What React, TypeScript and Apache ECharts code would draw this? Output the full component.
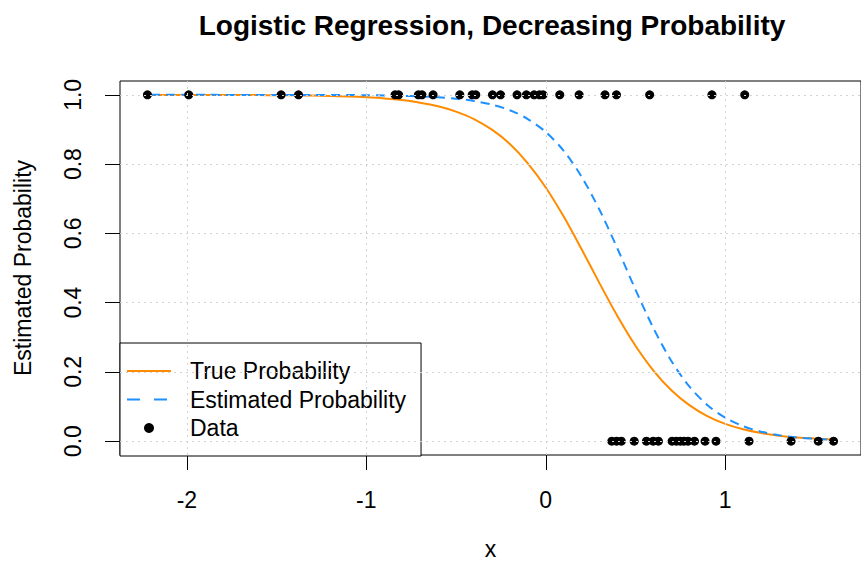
import React, { useEffect, useRef } from "react";
import * as echarts from "echarts";

const titleText = "Logistic Regression, Decreasing Probability";
const xName = "x";
const yName = "Estimated Probability";
const xTicks = [-2, -1, 0, 1];
const yTicks = [0, 0.2, 0.4, 0.6, 0.8, 1.0];
const xMin = -2.373;
const xMax = 1.757;
const yMin = -0.04;
const yMax = 1.04;

const curveX = [
  -2.2, -2.1, -2.0, -1.9, -1.8, -1.7, -1.6, -1.5, -1.4, -1.3, -1.2, -1.1, -1.0,
  -0.9, -0.8, -0.7, -0.6, -0.5, -0.4, -0.3, -0.2, -0.1, 0.0, 0.1, 0.2, 0.3, 0.4,
  0.5, 0.6, 0.7, 0.8, 0.9, 1.0, 1.1, 1.2, 1.3, 1.4, 1.5, 1.6,
];
const trueProb = [
  0.9999, 0.9999, 0.9999, 0.9998, 0.9997, 0.9996, 0.9993, 0.999, 0.9986, 0.9979,
  0.9968, 0.9953, 0.993, 0.9897, 0.9848, 0.9775, 0.9671, 0.9517, 0.9302, 0.8994,
  0.8581, 0.8022, 0.7325, 0.6484, 0.554, 0.4556, 0.3606, 0.2753, 0.2037, 0.147,
  0.104, 0.0725, 0.05, 0.0343, 0.0234, 0.0158, 0.0107, 0.0073, 0.0049,
];
const estProb = [
  1.0, 1.0, 1.0, 1.0, 0.9999, 0.9999, 0.9999, 0.9999, 0.9998, 0.9998, 0.9996,
  0.9994, 0.999, 0.9983, 0.9973, 0.9957, 0.993, 0.9889, 0.9822, 0.9718, 0.9556,
  0.9302, 0.8927, 0.8383, 0.7633, 0.6675, 0.5555, 0.4376, 0.3263, 0.2317, 0.158,
  0.1046, 0.0678, 0.0433, 0.0274, 0.0172, 0.0108, 0.0068, 0.0042,
];

const dataX1 = [
  -2.22, -1.99, -1.475, -1.378, -0.84, -0.82, -0.71, -0.69, -0.628, -0.479,
  -0.41, -0.39, -0.297, -0.252, -0.16, -0.108, -0.065, -0.035, -0.015, 0.078,
  0.186, 0.33, 0.394, 0.579, 0.926, 1.109,
];
const dataX0 = [
  0.368, 0.395, 0.421, 0.493, 0.561, 0.599, 0.628, 0.704, 0.728, 0.75, 0.77,
  0.793, 0.829, 0.888, 0.949, 1.133, 1.367, 1.519, 1.604,
];

const FONT = "'Liberation Sans', Arial, Helvetica, sans-serif";
const FS = 23;

export default function App() {
  const ref = useRef<HTMLDivElement>(null);
  useEffect(() => {
    if (!ref.current) return;
    const chart = echarts.init(ref.current, null, { renderer: "svg" });
    const gridStyle = { color: "#d3d3d3", type: [2, 4] as any, width: 1 };
    const points = [
      ...dataX1.map((x) => [x, 1]),
      ...dataX0.map((x) => [x, 0]),
    ];
    chart.setOption({
      animation: false,
      backgroundColor: "#ffffff",
      textStyle: { fontFamily: FONT },
      title: {
        text: titleText,
        left: 487,
        top: 6,
        textAlign: "center",
        textStyle: { fontFamily: FONT, fontWeight: "bold", fontSize: 28, color: "#000" },
      },
      grid: {
        left: 120,
        top: 81,
        right: 0,
        bottom: 110,
        show: true,
        borderColor: "#000",
        borderWidth: 1,
        backgroundColor: "transparent",
        outerBoundsMode: "none",
        containLabel: false,
      },
      legend: {
        orient: "vertical",
        left: 120,
        top: 343,
        padding: [16, 15, 16, 6],
        itemWidth: 44,
        itemHeight: 10,
        itemGap: 4.5,
        borderColor: "#000",
        borderWidth: 1,
        borderRadius: 0,
        backgroundColor: "#fff",
        textStyle: { fontFamily: FONT, fontSize: FS, color: "#000", padding: [0, 0, 0, 14], lineHeight: 24 },
        data: [
          { name: "True Probability", itemStyle: { opacity: 0 } },
          { name: "Estimated Probability", itemStyle: { opacity: 0 }, lineStyle: { type: [13, 14] } },
          { name: "Data", icon: "circle" },
        ],
      },
      xAxis: {
        type: "value",
        min: xMin,
        max: xMax,
        name: xName,
        nameLocation: "middle",
        nameGap: 82,
        nameTextStyle: { fontFamily: FONT, fontSize: FS, color: "#000" },
        axisLine: { show: false, onZero: false },
        axisTick: { show: true, length: 15, customValues: xTicks, lineStyle: { color: "#000", width: 1 } },
        axisLabel: {
          customValues: xTicks,
          fontFamily: FONT,
          fontSize: FS,
          color: "#000",
          margin: 33,
          formatter: (v: number) => String(v),
        },
        splitLine: { show: false },
      },
      yAxis: {
        type: "value",
        min: yMin,
        max: yMax,
        name: yName,
        nameLocation: "middle",
        nameGap: 86,
        nameTextStyle: { fontFamily: FONT, fontSize: FS, color: "#000" },
        axisLine: { show: false, onZero: false },
        axisTick: { show: true, length: 15, customValues: yTicks, lineStyle: { color: "#000", width: 1 } },
        axisLabel: {
          customValues: yTicks,
          rotate: 90,
          fontFamily: FONT,
          fontSize: FS,
          color: "#000",
          margin: 36,
          formatter: (v: number) => v.toFixed(1),
        },
        splitLine: { show: false },
      },
      series: [
        {
          name: "grid",
          type: "line",
          data: [],
          silent: true,
          markLine: {
            silent: true,
            symbol: "none",
            label: { show: false },
            lineStyle: gridStyle,
            data: [
              ...xTicks.map((v) => ({ xAxis: v })),
              ...yTicks.map((v) => ({ yAxis: v })),
            ],
          },
        },
        {
          name: "True Probability",
          type: "line",
          data: curveX.map((x, i) => [x, trueProb[i]]),
          showSymbol: false,
          symbol: "none",
          smooth: 0.3,
          lineStyle: { color: "#FF8C00", width: 2 },
          itemStyle: { color: "#FF8C00" },
          z: 3,
        },
        {
          name: "Estimated Probability",
          type: "line",
          data: curveX.map((x, i) => [x, estProb[i]]),
          showSymbol: false,
          symbol: "none",
          smooth: 0.3,
          lineStyle: { color: "#1E90FF", width: 2, type: [9, 6] },
          itemStyle: { color: "#1E90FF" },
          z: 3,
        },
        {
          name: "Data",
          type: "scatter",
          data: points,
          symbol: "circle",
          symbolSize: 9,
          itemStyle: { color: "#000", opacity: 1 },
          z: 4,
        },
      ],
    });
    return () => chart.dispose();
  }, []);
  return (
    <div
      ref={ref}
      style={{ position: "fixed", left: 0, top: 0, width: 861, height: 565, background: "#fff" }}
    />
  );
}
